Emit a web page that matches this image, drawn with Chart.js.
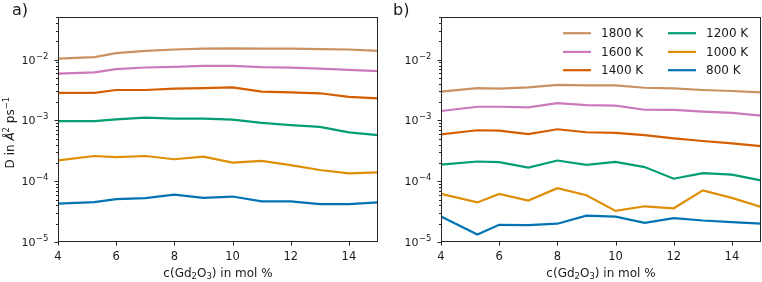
<!DOCTYPE html>
<html><head><meta charset="utf-8">
<script src="https://cdn.jsdelivr.net/npm/chart.js@4/dist/chart.umd.min.js"></script>
<style>
html,body{margin:0;padding:0;background:#fff;}
body{width:762px;height:282px;position:relative;overflow:hidden;}
canvas{position:absolute;top:0;}
#ca{left:0;}
#cb{left:390px;}
.lab{position:absolute;font:16px "DejaVu Sans";color:#1a1a1a;line-height:16px;}
</style></head><body>
<canvas id="ca" width="390" height="282"></canvas>
<canvas id="cb" width="372" height="282"></canvas>
<div class="lab" style="left:12px;top:2px">a)</div>
<div class="lab" style="left:393px;top:2px">b)</div>
<script>
// ---- data ----
const xVals = [4, 5.25, 6, 7, 8, 9, 10, 11, 12, 13, 14, 15];
const seriesLabels = ['1800 K', '1600 K', '1400 K', '1200 K', '1000 K', '800 K'];
const seriesColors = ['#ca9161', '#cc78bc', '#d55e00', '#029e73', '#de8f05', '#0173b2'];

const a1800 = [0.0104, 0.0110, 0.0128, 0.0140, 0.0147, 0.0152, 0.0154, 0.0152, 0.0152, 0.0149, 0.0147, 0.0140];
const a1600 = [0.00588, 0.00618, 0.00698, 0.00743, 0.0076, 0.0079, 0.0079, 0.00753, 0.0074, 0.0071, 0.0068, 0.0065];
const a1400 = [0.00284, 0.00284, 0.00317, 0.00317, 0.00333, 0.00341, 0.0035, 0.00298, 0.0029, 0.0028, 0.00244, 0.0023];
const a1200 = [0.000976, 0.000976, 0.00104, 0.00111, 0.00107, 0.00107, 0.00103, 0.00091, 0.000835, 0.000784, 0.000635, 0.000575];
const a1000 = [0.000221, 0.00026, 0.00025, 0.00026, 0.00023, 0.000253, 0.000203, 0.000216, 0.000184, 0.000153, 0.000135, 0.00014];
const a800  = [0.0000427, 0.0000453, 0.0000507, 0.0000526, 0.0000603, 0.0000532, 0.000056, 0.0000465, 0.0000465, 0.000042, 0.000042, 0.0000448];

const b1800 = [0.00298, 0.00341, 0.00333, 0.0035, 0.00386, 0.00377, 0.00377, 0.00345, 0.00337, 0.00317, 0.00305, 0.0029];
const b1600 = [0.00143, 0.00168, 0.00168, 0.00164, 0.00193, 0.00179, 0.00175, 0.0015, 0.00149, 0.0014, 0.00133, 0.0012];
const b1400 = [0.000588, 0.00069, 0.00068, 0.000595, 0.000716, 0.00064, 0.000625, 0.000573, 0.000507, 0.000459, 0.000421, 0.000377];
const b1200 = [0.000188, 0.000211, 0.000206, 0.000167, 0.000219, 0.000186, 0.000208, 0.000171, 0.00011, 0.000136, 0.000128, 0.000103];
const b1000 = [0.0000618, 0.0000448, 0.0000618, 0.0000482, 0.000077, 0.0000588, 0.0000325, 0.0000387, 0.0000359, 0.0000708, 0.0000532, 0.0000377];
const b800  = [0.0000262, 0.0000133, 0.0000192, 0.000019, 0.00002, 0.0000272, 0.0000262, 0.0000207, 0.0000247, 0.0000226, 0.0000212, 0.00002];

const xTicks = [4, 6, 8, 10, 12, 14];
const yTickValues = [1e-5, 1e-4, 1e-3, 1e-2];
const yTickBase = '10';
const yTickExps = ['−5', '−4', '−3', '−2'];
const yMin = 1e-5, yMax = 0.05;
// rich titles: [text, kind] where kind: 'n' normal, 'i' italic, 'sup', 'sub'
const xTitleParts = [['c(Gd', 'n'], ['2', 'sub'], ['O', 'n'], ['3', 'sub'], [') in mol %', 'n']];
const yTitleParts = [['D in ', 'n'], ['Å', 'i'], ['2', 'sup'], [' ps', 'n'], ['−1', 'sup']];

// ---- helpers ----
const FONT = '"DejaVu Sans"';
const TXT = '#1a1a1a';
const AXC = '#262626';
const BASE = 12, SMALL = 8.5;

function yAllTicks() {
  const out = [];
  for (let e = -5; e <= -2; e++) {
    for (let m = 1; m <= 9; m++) {
      const v = m * Math.pow(10, e);
      if (v >= yMin * 0.999 && v <= yMax * 1.001) out.push({ value: v, major: m === 1 });
    }
  }
  return out;
}

function makeDatasets(arrs) {
  return arrs.map((arr, i) => ({
    label: seriesLabels[i],
    data: xVals.map((x, j) => ({ x: x, y: arr[j] })),
    borderColor: seriesColors[i],
    backgroundColor: seriesColors[i],
    borderWidth: 2.2,
    pointRadius: 0,
    tension: 0,
    fill: false
  }));
}

function partFont(kind) {
  if (kind === 'sup' || kind === 'sub') return SMALL + 'px ' + FONT;
  if (kind === 'i') return 'italic ' + BASE + 'px ' + FONT;
  return BASE + 'px ' + FONT;
}
function partDy(kind) {
  if (kind === 'sup') return -5;
  if (kind === 'sub') return 2.5;
  return 0;
}
// draws parts centred horizontally at (0, 0) baseline in current transform
function drawParts(ctx, parts) {
  let total = 0;
  const widths = parts.map(p => { ctx.font = partFont(p[1]); const w = ctx.measureText(p[0]).width; total += w; return w; });
  let x = -total / 2;
  parts.forEach((p, i) => {
    ctx.font = partFont(p[1]);
    ctx.fillText(p[0], x, partDy(p[1]));
    x += widths[i];
  });
}

const frameTicks = {
  id: 'frameTicks',
  afterDatasetsDraw(chart) {
    const { ctx, chartArea: a, scales: { x, y } } = chart;
    ctx.save();
    ctx.strokeStyle = AXC;
    ctx.lineWidth = 1;
    const L = Math.round(a.left) + 0.5, R = Math.round(a.right) - 0.5;
    const T = Math.round(a.top) + 0.5, B = Math.round(a.bottom) - 0.5;
    ctx.strokeRect(L, T, R - L, B - T);
    ctx.beginPath();
    y.ticks.forEach(t => {
      const py = Math.round(y.getPixelForValue(t.value)) + 0.5;
      const len = t.major ? 4 : 2.5;
      ctx.moveTo(L - len, py); ctx.lineTo(L, py);
    });
    x.ticks.forEach(t => {
      const px = Math.round(x.getPixelForValue(t.value)) + 0.5;
      ctx.moveTo(px, B); ctx.lineTo(px, B + 4);
    });
    ctx.stroke();

    // y tick labels (10 with superscript exponent)
    ctx.fillStyle = TXT;
    ctx.textBaseline = 'alphabetic';
    ctx.textAlign = 'left';
    yTickValues.forEach((v, i) => {
      const py = y.getPixelForValue(v);
      ctx.font = SMALL + 'px ' + FONT;
      const w2 = ctx.measureText(yTickExps[i]).width;
      ctx.font = '11px ' + FONT;
      const w1 = ctx.measureText(yTickBase).width;
      const xe = a.left - 9.5;
      ctx.fillText(yTickBase, xe - w2 - w1 - 0.5, py + 4);
      ctx.font = SMALL + 'px ' + FONT;
      ctx.fillText(yTickExps[i], xe - w2, py - 1);
    });

    // x title
    ctx.save();
    ctx.translate((a.left + a.right) / 2, 276.5);
    drawParts(ctx, xTitleParts);
    ctx.restore();

    // y title (left panel only)
    if (chart.options.showYTitle) {
      ctx.save();
      ctx.translate(14, (a.top + a.bottom) / 2 + 3);
      ctx.rotate(-Math.PI / 2);
      drawParts(ctx, yTitleParts);
      ctx.restore();
    }
    ctx.restore();
  }
};

const legendPlugin = {
  id: 'legendBox',
  afterDatasetsDraw(chart) {
    const { ctx, chartArea: a } = chart;
    const ds = chart.data.datasets;
    const rows = [16, 34.7, 53];
    const cols = [198, 93];
    ctx.save();
    ctx.font = '12px ' + FONT;
    ctx.textBaseline = 'middle';
    ctx.textAlign = 'left';
    ds.forEach((d, i) => {
      const c = Math.floor(i / 3), r = i % 3;
      const x0 = a.right - cols[c];
      const yy = a.top + rows[r];
      ctx.strokeStyle = d.borderColor;
      ctx.lineWidth = 2.2;
      ctx.beginPath();
      ctx.moveTo(x0, yy); ctx.lineTo(x0 + 28, yy);
      ctx.stroke();
      ctx.fillStyle = TXT;
      ctx.fillText(d.label, x0 + 38, yy + 0.5);
    });
    ctx.restore();
  }
};

function makeOptions(showYTitle, yWidth, rightPad) {
  return {
    responsive: false,
    animation: false,
    devicePixelRatio: 1,
    showYTitle: showYTitle,
    layout: { padding: { top: 13, right: rightPad, left: 0, bottom: 0 } },
    plugins: { legend: { display: false }, tooltip: { enabled: false } },
    scales: {
      x: {
        type: 'linear', min: 4, max: 15,
        afterBuildTicks: s => { s.ticks = xTicks.map(v => ({ value: v })); },
        afterFit: s => { s.height = 40; },
        grid: { display: false, drawTicks: false },
        border: { display: false },
        ticks: { padding: 8, color: TXT, font: { family: 'DejaVu Sans', size: 11.5 }, maxRotation: 0, autoSkip: false,
                 callback: v => String(v) },
        title: { display: false }
      },
      y: {
        type: 'logarithmic', min: yMin, max: yMax,
        afterBuildTicks: s => { s.ticks = yAllTicks(); },
        afterFit: s => { s.width = yWidth; },
        grid: { display: false, drawTicks: false },
        border: { display: false },
        ticks: { padding: 10, autoSkip: false, callback: () => '' },
        title: { display: false }
      }
    }
  };
}

new Chart(document.getElementById('ca'), {
  type: 'line',
  data: { datasets: makeDatasets([a1800, a1600, a1400, a1200, a1000, a800]) },
  options: makeOptions(true, 58, 12),
  plugins: [frameTicks]
});

new Chart(document.getElementById('cb'), {
  type: 'line',
  data: { datasets: makeDatasets([b1800, b1600, b1400, b1200, b1000, b800]) },
  options: makeOptions(false, 51, 1),
  plugins: [frameTicks, legendPlugin]
});
</script>
</body></html>
